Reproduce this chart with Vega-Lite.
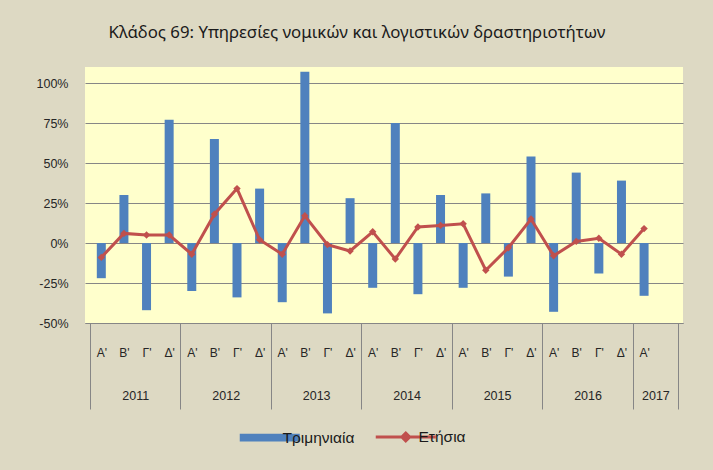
{
  "$schema": "https://vega.github.io/schema/vega-lite/v6.json",
  "autosize": {"type": "none"},
  "padding": {"left": 85, "top": 67, "right": 30, "bottom": 147},
  "width": 598,
  "height": 256,
  "background": "#ddd9c3",
  "title": {
    "text": "Κλάδος 69: Υπηρεσίες νομικών και λογιστικών δραστηριοτήτων",
    "font": "Noto Sans",
    "fontSize": 16.8,
    "fontWeight": "normal",
    "color": "#1a1a1a",
    "anchor": "middle",
    "dx": -27,
    "offset": 25
  },
  "config": {
    "view": {"fill": "#ffffcc", "stroke": null},
    "axis": {"labelFont": "Liberation Sans", "labelFontSize": 12, "labelColor": "#262626", "titleFont": "Liberation Sans"}
  },
  "data": {
    "values": [
      {"i": 1, "year": "2011", "q": "Α'", "tri": -22, "ann": -9},
      {"i": 2, "year": "2011", "q": "Β'", "tri": 30, "ann": 6},
      {"i": 3, "year": "2011", "q": "Γ'", "tri": -42, "ann": 5},
      {"i": 4, "year": "2011", "q": "Δ'", "tri": 77, "ann": 5},
      {"i": 5, "year": "2012", "q": "Α'", "tri": -30, "ann": -7},
      {"i": 6, "year": "2012", "q": "Β'", "tri": 65, "ann": 18},
      {"i": 7, "year": "2012", "q": "Γ'", "tri": -34, "ann": 34},
      {"i": 8, "year": "2012", "q": "Δ'", "tri": 34, "ann": 2},
      {"i": 9, "year": "2013", "q": "Α'", "tri": -37, "ann": -7},
      {"i": 10, "year": "2013", "q": "Β'", "tri": 107, "ann": 17},
      {"i": 11, "year": "2013", "q": "Γ'", "tri": -44, "ann": -1},
      {"i": 12, "year": "2013", "q": "Δ'", "tri": 28, "ann": -5},
      {"i": 13, "year": "2014", "q": "Α'", "tri": -28, "ann": 7},
      {"i": 14, "year": "2014", "q": "Β'", "tri": 75, "ann": -10},
      {"i": 15, "year": "2014", "q": "Γ'", "tri": -32, "ann": 10},
      {"i": 16, "year": "2014", "q": "Δ'", "tri": 30, "ann": 11},
      {"i": 17, "year": "2015", "q": "Α'", "tri": -28, "ann": 12},
      {"i": 18, "year": "2015", "q": "Β'", "tri": 31, "ann": -17},
      {"i": 19, "year": "2015", "q": "Γ'", "tri": -21, "ann": -3},
      {"i": 20, "year": "2015", "q": "Δ'", "tri": 54, "ann": 15},
      {"i": 21, "year": "2016", "q": "Α'", "tri": -43, "ann": -8},
      {"i": 22, "year": "2016", "q": "Β'", "tri": 44, "ann": 1},
      {"i": 23, "year": "2016", "q": "Γ'", "tri": -19, "ann": 3},
      {"i": 24, "year": "2016", "q": "Δ'", "tri": 39, "ann": -7},
      {"i": 25, "year": "2017", "q": "Α'", "tri": -33, "ann": 9}
    ]
  },
  "resolve": {"axis": {"x": "independent"}},
  "layer": [
    {
      "mark": {"type": "bar", "size": 9, "color": "#4f81bd"},
      "encoding": {
        "x": {
          "field": "i", "type": "quantitative",
          "scale": {"domain": [0.5, 26.5], "nice": false, "zero": false},
          "axis": {
            "orient": "bottom", "title": null,
            "values": [1,2,3,4,5,6,7,8,9,10,11,12,13,14,15,16,17,18,19,20,21,22,23,24,25],
            "labelExpr": "['Α\\'','Β\\'','Γ\\'','Δ\\''][(datum.value - 1) % 4]",
            "ticks": false, "grid": false, "labelPadding": 24, "labelOverlap": false, "labelFlush": false,
            "domain": true, "domainColor": "#868686", "labelFontSize": 12
          }
        },
        "y": {
          "field": "tri", "type": "quantitative",
          "scale": {"domain": [-50, 110], "nice": false},
          "axis": {
            "title": null, "values": [-50, -25, 0, 25, 50, 75, 100],
            "labelExpr": "datum.value + '%'", "ticks": false, "domain": false,
            "grid": true, "gridColor": "#868686", "gridWidth": 1, "labelPadding": 17, "labelFontSize": 12.5
          }
        },
        "color": {
          "datum": "Τριμηνιαία", "type": "nominal",
          "scale": {"domain": ["Τριμηνιαία", "Ετήσια"], "range": ["#4f81bd", "#c0504d"]},
          "legend": {
            "orient": "none", "legendX": 177, "legendY": 362, "direction": "horizontal", "title": null,
            "symbolSize": 3600, "labelFont": "Liberation Sans", "labelFontSize": 15.5, "labelColor": "#1a1a1a",
            "columnPadding": 14, "labelOffset": 5,
            "encode": {
              "symbols": {
                "update": {
                  "shape": {"signal": "datum.label === 'Ετήσια' ? 'M-1,0H1M0,-0.13L0.13,0L0,0.13L-0.13,0Z' : 'M-1,-0.13H1V0.13H-1Z'"},
                  "fill": {"signal": "datum.label === 'Ετήσια' ? '#c0504d' : '#4f81bd'"},
                  "stroke": {"signal": "datum.label === 'Ετήσια' ? '#c0504d' : '#4f81bd'"},
                  "strokeWidth": {"signal": "datum.label === 'Ετήσια' ? 3 : 0"},
                  "opacity": {"value": 1},
                  "fillOpacity": {"value": 1}
                }
              }
            }
          }
        }
      }
    },
    {
      "mark": {"type": "line", "strokeWidth": 3, "color": "#c0504d"},
      "encoding": {
        "x": {
          "field": "i", "type": "quantitative",
          "axis": {
            "orient": "bottom", "title": null,
            "values": [2.5, 6.5, 10.5, 14.5, 18.5, 22.5, 25.5],
            "labelExpr": "datum.value > 25 ? '2017' : '' + (2011 + floor(datum.value / 4))",
            "ticks": false, "grid": false, "domain": false, "labelPadding": 66, "labelOverlap": false, "labelFlush": false,
            "labelFontSize": 12.5
          }
        },
        "y": {"field": "ann", "type": "quantitative"},
        "color": {"datum": "Ετήσια", "type": "nominal"}
      }
    },
    {
      "mark": {"type": "point", "shape": "diamond", "filled": true, "size": 55, "opacity": 1, "color": "#c0504d"},
      "encoding": {
        "x": {
          "field": "i", "type": "quantitative",
          "axis": {
            "orient": "bottom", "title": null,
            "values": [0.5, 4.5, 8.5, 12.5, 16.5, 20.5, 24.5, 26.5],
            "labels": false, "ticks": true, "tickSize": 86, "tickColor": "#868686", "tickWidth": 1,
            "grid": false, "domain": false
          }
        },
        "y": {"field": "ann", "type": "quantitative"},
        "color": {"datum": "Ετήσια", "type": "nominal"}
      }
    }
  ]
}
